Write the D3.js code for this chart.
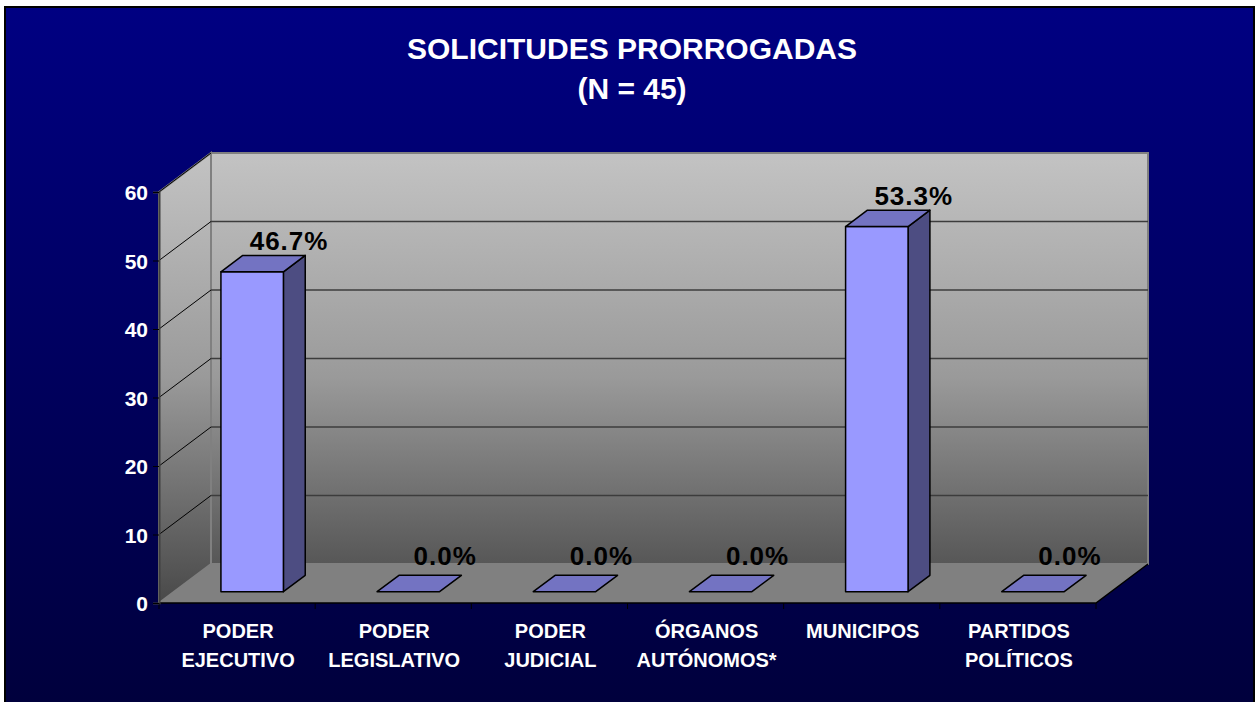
<!DOCTYPE html>
<html>
<head>
<meta charset="utf-8">
<script src="https://cdn.jsdelivr.net/npm/d3@7"></script>
<style>
  html, body { margin: 0; padding: 0; background: #fff; }
  svg { display: block; font-family: "Liberation Sans", Arial, sans-serif; }
</style>
</head>
<body>
<svg id="chart" width="1255" height="702"></svg>
<script>
// data
var categories = ["PODER\nEJECUTIVO", "PODER\nLEGISLATIVO", "PODER\nJUDICIAL", "ÓRGANOS\nAUTÓNOMOS*", "MUNICIPOS", "PARTIDOS\nPOLÍTICOS"];
var values = [46.7, 0, 0, 0, 53.3, 0];
var yTicks = [0, 10, 20, 30, 40, 50, 60];
var titleLines = ["SOLICITUDES PRORROGADAS", "(N = 45)"];

var svg = d3.select("#chart");
var defs = svg.append("defs");

var bg = defs.append("linearGradient").attr("id", "bg").attr("x1", 0).attr("y1", 0).attr("x2", 0).attr("y2", 1);
bg.append("stop").attr("offset", 0).attr("stop-color", "#000082");
bg.append("stop").attr("offset", 1).attr("stop-color", "#00003c");

var wall = defs.append("linearGradient").attr("id", "wall")
  .attr("gradientUnits", "userSpaceOnUse").attr("x1", 0).attr("y1", 153).attr("x2", 0).attr("y2", 600);
wall.append("stop").attr("offset", 0).attr("stop-color", "#c3c3c3");
wall.append("stop").attr("offset", 0.5).attr("stop-color", "#9a9a9a");
wall.append("stop").attr("offset", 1).attr("stop-color", "#4a4a4a");

// background frame
svg.append("rect").attr("x", 5).attr("y", 7).attr("width", 1249).attr("height", 700)
  .attr("fill", "url(#bg)").attr("stroke", "#000").attr("stroke-width", 2);

// scales
var depthX = 52, depthY = 39;
var x = d3.scaleBand().domain(categories).range([159, 1096]).paddingInner(0.6).paddingOuter(0.3);
var y = d3.scaleLinear().domain([0, 60]).range([603, 192]);
function px(xx, d) { return xx + d * depthX; }
function py(yy, d) { return yy - d * depthY; }
var x0 = 159, x1 = 1096;

var plot = svg.append("g");

// back wall
plot.append("path")
  .attr("d", d3.line()([[px(x0, 1), py(y(60), 1)], [px(x1, 1), py(y(60), 1)], [px(x1, 1), py(y(0), 1)], [px(x0, 1), py(y(0), 1)]]) + "Z")
  .attr("fill", "url(#wall)").attr("stroke", "#808080").attr("stroke-width", 2);
// left wall
plot.append("path")
  .attr("d", d3.line()([[x0, y(60)], [px(x0, 1), py(y(60), 1)], [px(x0, 1), py(y(0), 1)], [x0, y(0)]]) + "Z")
  .attr("fill", "url(#wall)").attr("stroke", "#808080").attr("stroke-width", 2);

// gridlines
plot.selectAll("line.gb").data(yTicks.filter(function(v) { return v > 0 && v < 60; })).enter().append("line")
  .attr("class", "gb")
  .attr("x1", px(x0, 1)).attr("x2", px(x1, 1))
  .attr("y1", function(v) { return py(y(v), 1); }).attr("y2", function(v) { return py(y(v), 1); })
  .attr("stroke", "#3c3c3c").attr("stroke-width", 1.5);
plot.selectAll("line.gl").data(yTicks.filter(function(v) { return v > 0; })).enter().append("line")
  .attr("class", "gl")
  .attr("x1", x0).attr("x2", px(x0, 1))
  .attr("y1", function(v) { return y(v); }).attr("y2", function(v) { return py(y(v), 1); })
  .attr("stroke", "#000").attr("stroke-width", 1);

// floor
plot.append("path")
  .attr("d", d3.line()([[x0, y(0)], [px(x0, 1), py(y(0), 1)], [px(x1, 1), py(y(0), 1)], [x1, y(0)]]) + "Z")
  .attr("fill", "#808080").attr("stroke", "none");
plot.append("path")
  .attr("d", d3.line()([[x0, y(0)], [x1, y(0)], [px(x1, 1), py(y(0), 1)]]))
  .attr("fill", "none").attr("stroke", "#000").attr("stroke-width", 1.5);

// y axis
var yAxis = plot.append("g").attr("transform", "translate(" + x0 + ",0)")
  .call(d3.axisLeft(y).tickValues(yTicks).tickSize(6).tickPadding(5).tickFormat(d3.format("d")));
yAxis.attr("font-size", 21).attr("font-family", "'Liberation Sans', Arial, sans-serif");
yAxis.select(".domain").attr("stroke", "#404040").attr("stroke-width", 2);
yAxis.selectAll(".tick line").attr("stroke", "#000");
yAxis.selectAll(".tick text").attr("fill", "#fff").attr("font-size", 21).attr("font-weight", "bold")
  .attr("dy", "0.36em");

// x ticks at category boundaries
var step = x.step();
plot.selectAll("line.xt").data(d3.range(categories.length + 1)).enter().append("line")
  .attr("class", "xt")
  .attr("x1", function(i) { return x0 + i * step; }).attr("x2", function(i) { return x0 + i * step; })
  .attr("y1", y(0)).attr("y2", y(0) + 6)
  .attr("stroke", "#000").attr("stroke-width", 1);

// bars
var d0 = 0.29, d1 = 0.71;
var bw = x.bandwidth();
var bars = plot.selectAll("g.bar").data(categories).enter().append("g").attr("class", "bar");
bars.each(function(c, i) {
  var g = d3.select(this);
  var v = values[i];
  var l = x(c), r = x(c) + bw;
  var top = y(v), base = y(0);
  var line = d3.line();
  if (v > 0) {
    // right side
    g.append("path")
      .attr("d", line([[px(r, d0), py(top, d0)], [px(r, d1), py(top, d1)], [px(r, d1), py(base, d1)], [px(r, d0), py(base, d0)]]) + "Z")
      .attr("fill", "#4d4d82").attr("stroke", "#000").attr("stroke-width", 1.5).attr("stroke-linejoin", "round");
    // front
    g.append("path")
      .attr("d", line([[px(l, d0), py(top, d0)], [px(r, d0), py(top, d0)], [px(r, d0), py(base, d0)], [px(l, d0), py(base, d0)]]) + "Z")
      .attr("fill", "#9999ff").attr("stroke", "#000").attr("stroke-width", 1.5).attr("stroke-linejoin", "round");
  }
  // top
  g.append("path")
    .attr("d", line([[px(l, d0), py(top, d0)], [px(l, d1), py(top, d1)], [px(r, d1), py(top, d1)], [px(r, d0), py(top, d0)]]) + "Z")
    .attr("fill", "#7373c2").attr("stroke", "#000").attr("stroke-width", 1.5).attr("stroke-linejoin", "round");
});

// data labels
plot.selectAll("text.lbl").data(categories).enter().append("text")
  .attr("class", "lbl")
  .attr("x", function(c) { return px(x(c) + bw / 2, 1); })
  .attr("y", function(c, i) { return py(y(values[i]), 1) + (values[i] > 0 ? 6 : 1); })
  .attr("text-anchor", "middle")
  .attr("font-size", 26).attr("font-weight", "bold").attr("letter-spacing", 1)
  .attr("fill", "#000")
  .text(function(c, i) { return d3.format(".1f")(values[i]) + "%"; });

// category labels
var cl = svg.selectAll("text.cat").data(categories).enter().append("text")
  .attr("class", "cat")
  .attr("text-anchor", "middle")
  .attr("font-size", 20).attr("font-weight", "bold").attr("fill", "#fff");
cl.each(function(c) {
  var t = d3.select(this);
  c.split("\n").forEach(function(s, k) {
    t.append("tspan").attr("x", x(c) + bw / 2 + 1).attr("y", 638 + k * 29).text(s);
  });
});

// title
svg.selectAll("text.title").data(titleLines).enter().append("text")
  .attr("class", "title")
  .attr("x", 632).attr("y", function(d, i) { return 59 + i * 40; })
  .attr("text-anchor", "middle")
  .attr("font-size", 30).attr("font-weight", "bold").attr("fill", "#fff")
  .text(function(d) { return d; });
</script>
</body>
</html>
